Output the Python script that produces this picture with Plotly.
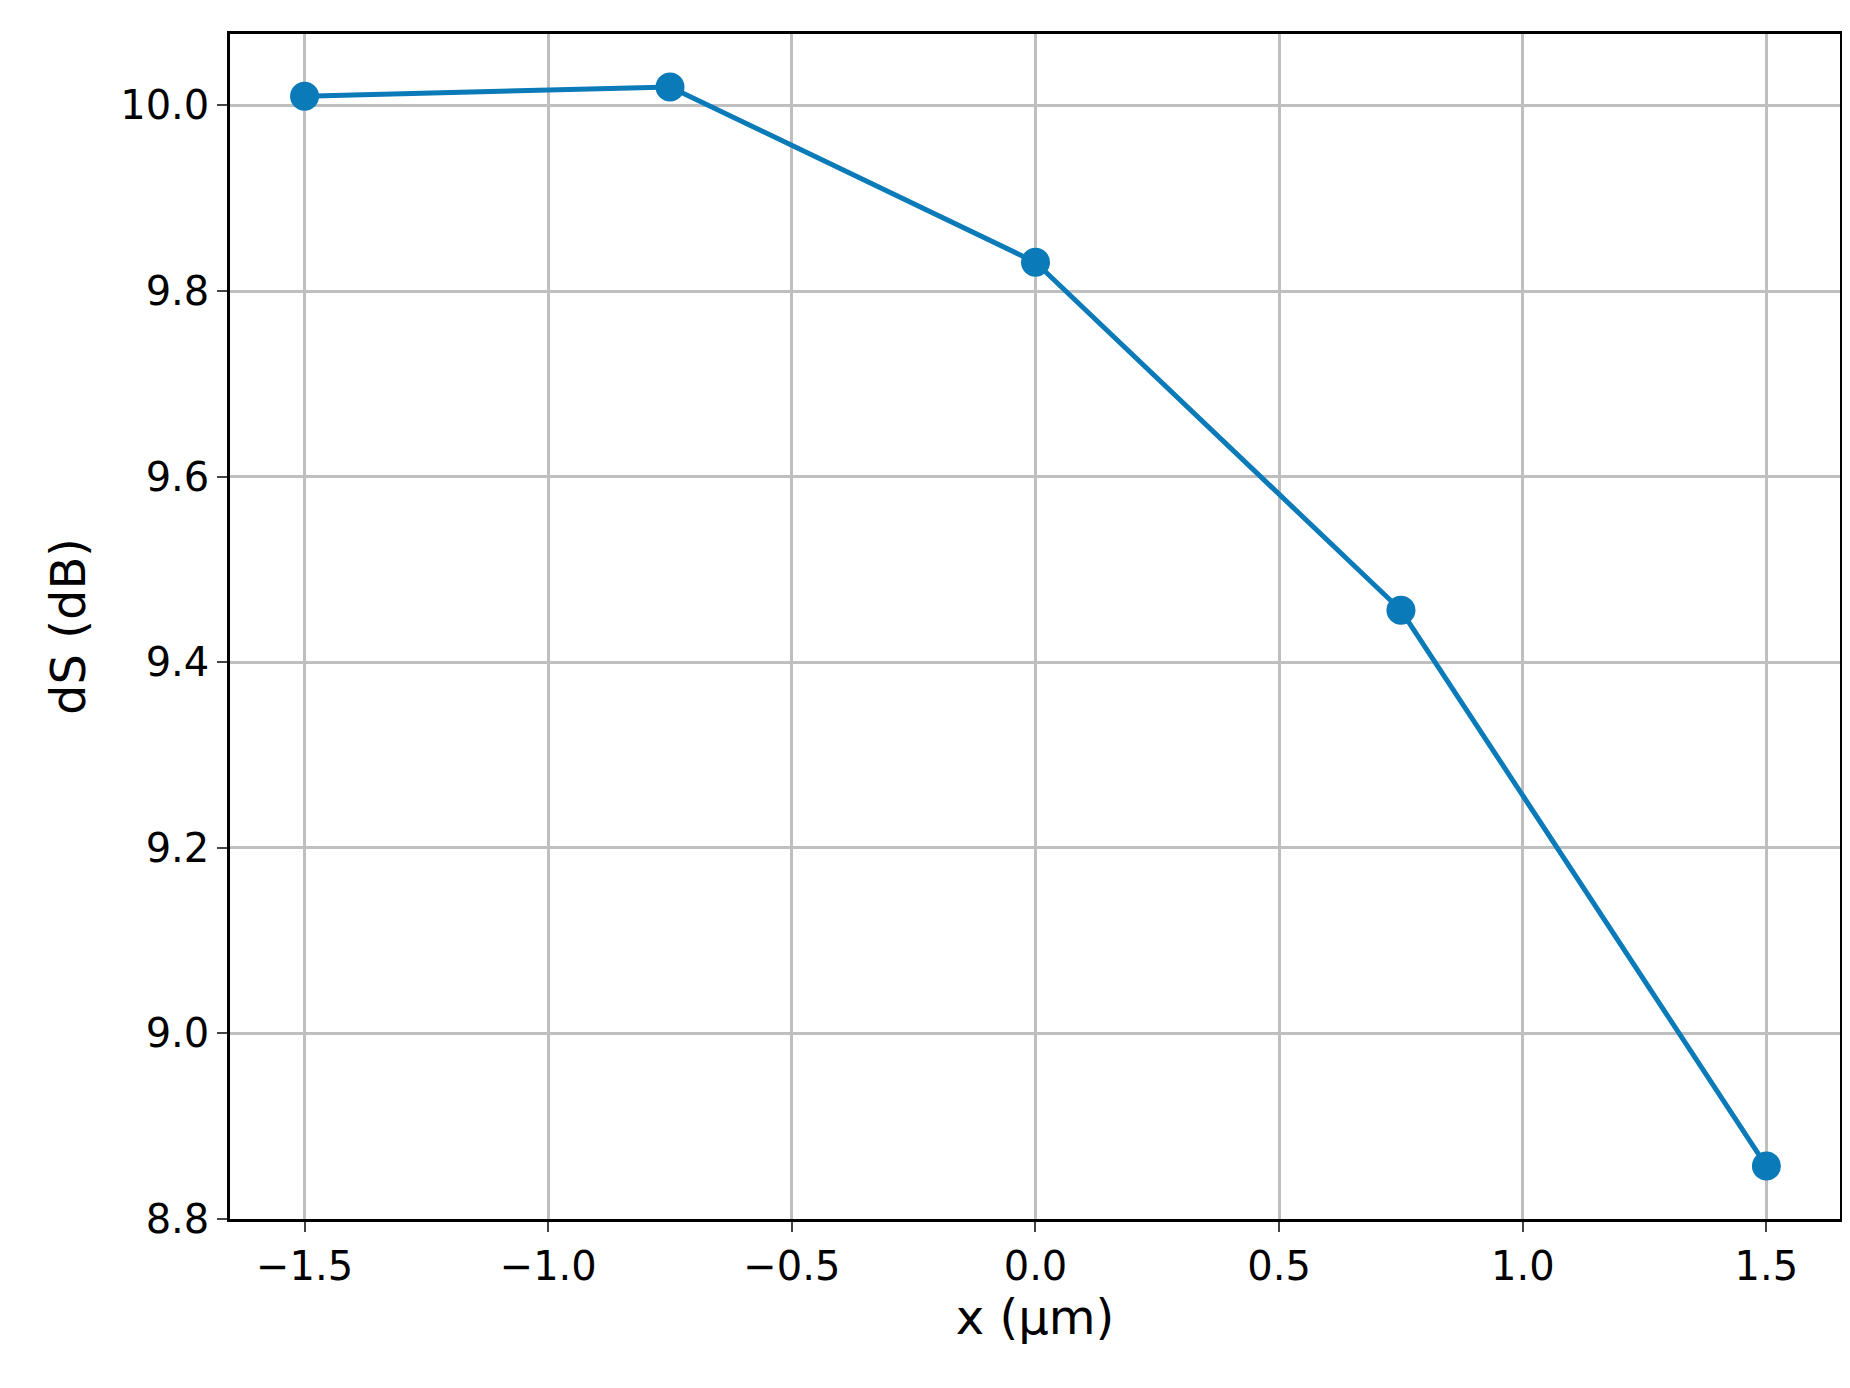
import plotly.graph_objects as go

x_vals = [-1.5, -0.75, 0.0, 0.75, 1.5]
ds_vals = [10.010, 10.020, 9.831, 9.456, 8.857]
x_ticks = [-1.5, -1.0, -0.5, 0.0, 0.5, 1.0, 1.5]
x_tick_text = ["\u22121.5", "\u22121.0", "\u22120.5", "0.0", "0.5", "1.0", "1.5"]
y_ticks = [8.8, 9.0, 9.2, 9.4, 9.6, 9.8, 10.0]
y_tick_text = ["8.8", "9.0", "9.2", "9.4", "9.6", "9.8", "10.0"]

fig = go.Figure(go.Scatter(
    x=x_vals, y=ds_vals, mode="lines+markers",
    line=dict(color="#0a7ab8", width=5),
    marker=dict(color="#0a7ab8", size=29),
))
W, H = 1850, 1388
fig.update_layout(
    width=W, height=H, plot_bgcolor="white", paper_bgcolor="white",
    margin=dict(l=int(0.1205*W), r=int(0.010*W), t=int(0.019*H), b=int(0.128*H)),
    showlegend=False,
    font=dict(family="DejaVu Sans", size=40, color="black"),
)
axis_common = dict(showgrid=True, gridcolor="#bfbfbf", gridwidth=2.5,
                   showline=True, linecolor="black", linewidth=2.5, mirror=True,
                   ticks="outside", ticklen=10, tickwidth=2, zeroline=False)
fig.update_xaxes(range=[-1.653, 1.651], tickvals=x_ticks, ticktext=x_tick_text,
                 title=dict(text="x (\u03bcm)", standoff=12), **axis_common)
fig.update_yaxes(range=[8.8, 10.077], tickvals=y_ticks, ticktext=y_tick_text,
                 title=dict(text="dS (dB)", standoff=20), **axis_common)
fig.write_html("out.html")
